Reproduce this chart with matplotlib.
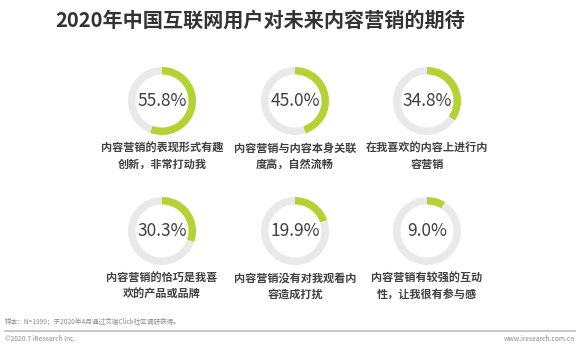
import matplotlib
matplotlib.use("Agg")
import matplotlib.pyplot as plt

plt.rcParams['font.family'] = ['Noto Sans CJK SC', 'DejaVu Sans']

title = "2020年中国互联网用户对未来内容营销的期待"
values = [55.8, 45.0, 34.8, 30.3, 19.9, 9.0]
labels = [
    "内容营销的表现形式有趣\n创新，非常打动我",
    "内容营销与内容本身关联\n度高，自然流畅",
    "在我喜欢的内容上进行内\n容营销",
    "内容营销的恰巧是我喜\n欢的产品或品牌",
    "内容营销没有对我观看内\n容造成打扰",
    "内容营销有较强的互动\n性，让我很有参与感",
]
note = "样本：N=1999；于2020年4月通过艾瑞Click社区调研获得。"
copyright_txt = "©2020.7 iResearch Inc."
site = "www.iresearch.com.cn"

W, H = 580, 346
green = "#b3d334"
ring_grey = "#e9e9e9"
dark = "#404040"

fig = plt.figure(figsize=(W / 100, H / 100), dpi=100)

# donut centres in pixel coords (from top-left)
col_x = [162, 295, 427]
row_y = [101, 231]
r = 34

for i, (v, lab) in enumerate(zip(values, labels)):
    cx = col_x[i % 3]
    cy = row_y[i // 3]
    ax = fig.add_axes([(cx - r) / W, (H - cy - r) / H, 2 * r / W, 2 * r / H])
    ax.pie([v, 100 - v], colors=[green, ring_grey], startangle=90,
           counterclock=False, radius=1,
           wedgeprops=dict(width=0.22, edgecolor='none'))
    ax.set_xlim(-1, 1)
    ax.set_ylim(-1, 1)
    ax.axis('off')
    ax.text(0, 0, f"{v:.1f}%", ha='center', va='center',
            fontsize=12.5, fontweight='medium', color=dark)
    fig.text(cx / W, 1 - (cy + 41) / H, lab, ha='center', va='top',
             fontsize=8, fontweight='bold', color=dark, linespacing=1.3)

fig.text(260 / W, 1 - 20 / H, title, ha='center', va='center',
         fontsize=14.5, fontweight='bold', color='#333333')

fig.text(5 / W, 1 - 322 / H, note, ha='left', va='center',
         fontsize=4.8, color='#8c8c8c')
fig.add_artist(plt.Line2D([5 / W, 575 / W], [1 - 330.5 / H, 1 - 330.5 / H],
                          color='#bfbfbf', lw=1.2))
fig.text(5 / W, 1 - 339 / H, copyright_txt, ha='left', va='center',
         fontsize=4.8, color='#8c8c8c')
fig.text(575 / W, 1 - 339 / H, site, ha='right', va='center',
         fontsize=4.8, color='#8c8c8c')

fig.savefig("out.png", dpi=100, facecolor='white')
